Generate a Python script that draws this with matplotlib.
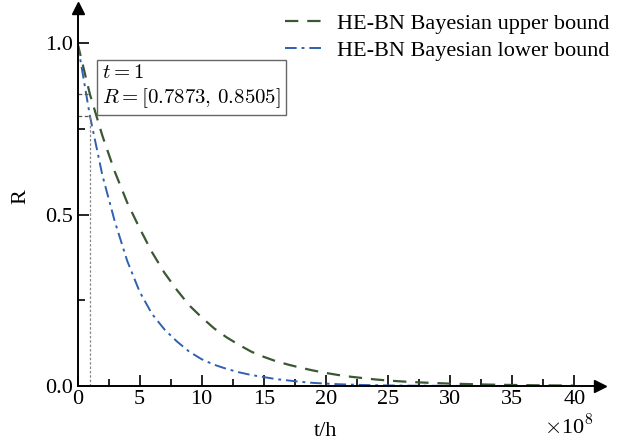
import matplotlib.pyplot as plt
import numpy as np

# (t w jednostkach 1e8 h)
t_vals = list(range(0, 41))
r_upper = [1.0, 0.8505, 0.73, 0.625, 0.535, 0.46, 0.39, 0.33, 0.28, 0.235,
           0.20, 0.168, 0.142, 0.12, 0.10, 0.085, 0.072, 0.062, 0.053, 0.045,
           0.038, 0.032, 0.027, 0.023, 0.019, 0.016, 0.0135, 0.0115, 0.0098, 0.0083,
           0.007, 0.006, 0.005, 0.0042, 0.0035, 0.003, 0.0025, 0.0021, 0.0018, 0.0015,
           0.0012]
r_lower = [1.0, 0.7873, 0.615, 0.48, 0.365, 0.275, 0.21, 0.165, 0.13, 0.1,
           0.078, 0.062, 0.05, 0.04, 0.032, 0.026, 0.02, 0.016, 0.012, 0.009,
           0.007, 0.0052, 0.004, 0.003, 0.0022, 0.0016, 0.0012, 0.0009, 0.0007, 0.0005,
           0.0004, 0.0003, 0.0002, 0.0002, 0.0001, 0.0001, 0.0001, 0.0, 0.0, 0.0,
           0.0]
labels = ['HE-BN Bayesian upper bound', 'HE-BN Bayesian lower bound']
t_mark = 1
r_mark = [0.7873, 0.8505]

plt.rcParams['font.family'] = ['Liberation Serif', 'DejaVu Serif']
plt.rcParams['mathtext.fontset'] = 'cm'

W, H = 621, 443
fig = plt.figure(figsize=(W / 100, H / 100), dpi=100)
x0, x1, y0, y1 = 77.5, 600, 386, 8
ax = fig.add_axes([x0 / W, 1 - y0 / H, (x1 - x0) / W, (y0 - y1) / H])

ax.plot(t_vals, r_upper, color='#3b5733', lw=1.6, dashes=(6, 4), label=labels[0])
ax.plot(t_vals, r_lower, color='#3060b0', lw=1.4, dashes=(6, 2.5, 1.5, 2.5),
        label=labels[1])

# Linie pomocnicze dla t = 1
ax.plot([t_mark, t_mark], [0, r_mark[0]], color='#888888', lw=0.9, ls=(0, (2, 1.5)))
for r in r_mark:
    ax.plot([0, t_mark], [r, r], color='#555555', lw=0.9, ls=(0, (3, 2)))

ax.text(1.97, 0.94, '$t=1$\n$R=[0.7873,\\,0.8505]$', fontsize=15, va='top', ha='left',
        linespacing=1.2,
        bbox=dict(boxstyle='square,pad=0.25', fc='white', ec='#666666', lw=1))

ax.set_xlim(0, (x1 - x0) / 12.42)
ax.set_ylim(0, (y0 - y1) / 343)
ax.set_xticks(np.arange(0, 41, 5))
ax.set_xticks(np.arange(2.5, 40, 5), minor=True)
ax.set_yticks([0, 0.5, 1.0])
ax.set_yticklabels(['0.0', '0.5', '1.0'])
ax.set_yticks([0.25, 0.75], minor=True)
ax.tick_params(which='both', direction='in', labelsize=16, width=1.2, pad=3)
ax.tick_params(which='major', length=8)
ax.tick_params(which='minor', length=5)

for s in ['top', 'right']:
    ax.spines[s].set_visible(False)
for s in ['left', 'bottom']:
    ax.spines[s].set_linewidth(1.4)

# Strzałki na końcach osi
ax.plot(1, 0, '>k', ms=9, transform=ax.transAxes, clip_on=False)
ax.plot(0, 1, '^k', ms=9, transform=ax.transAxes, clip_on=False)

fig.text(326 / W, 1 - 431 / H, 't/h', fontsize=16, ha='center', va='center')
fig.text(21 / W, 1 - 197 / H, 'R', fontsize=16, ha='center', va='center', rotation=90)
fig.text(569 / W, 1 - 427 / H, r'$\times$10$^8$', fontsize=16, ha='center', va='center')

ax.legend(loc='upper right', bbox_to_anchor=(620 / W, 1 - 2 / H),
          bbox_transform=fig.transFigure, frameon=False, fontsize=16,
          handlelength=1.7, handletextpad=0.6, labelspacing=0.3, borderpad=0)

fig.savefig('out.png', dpi=100)
